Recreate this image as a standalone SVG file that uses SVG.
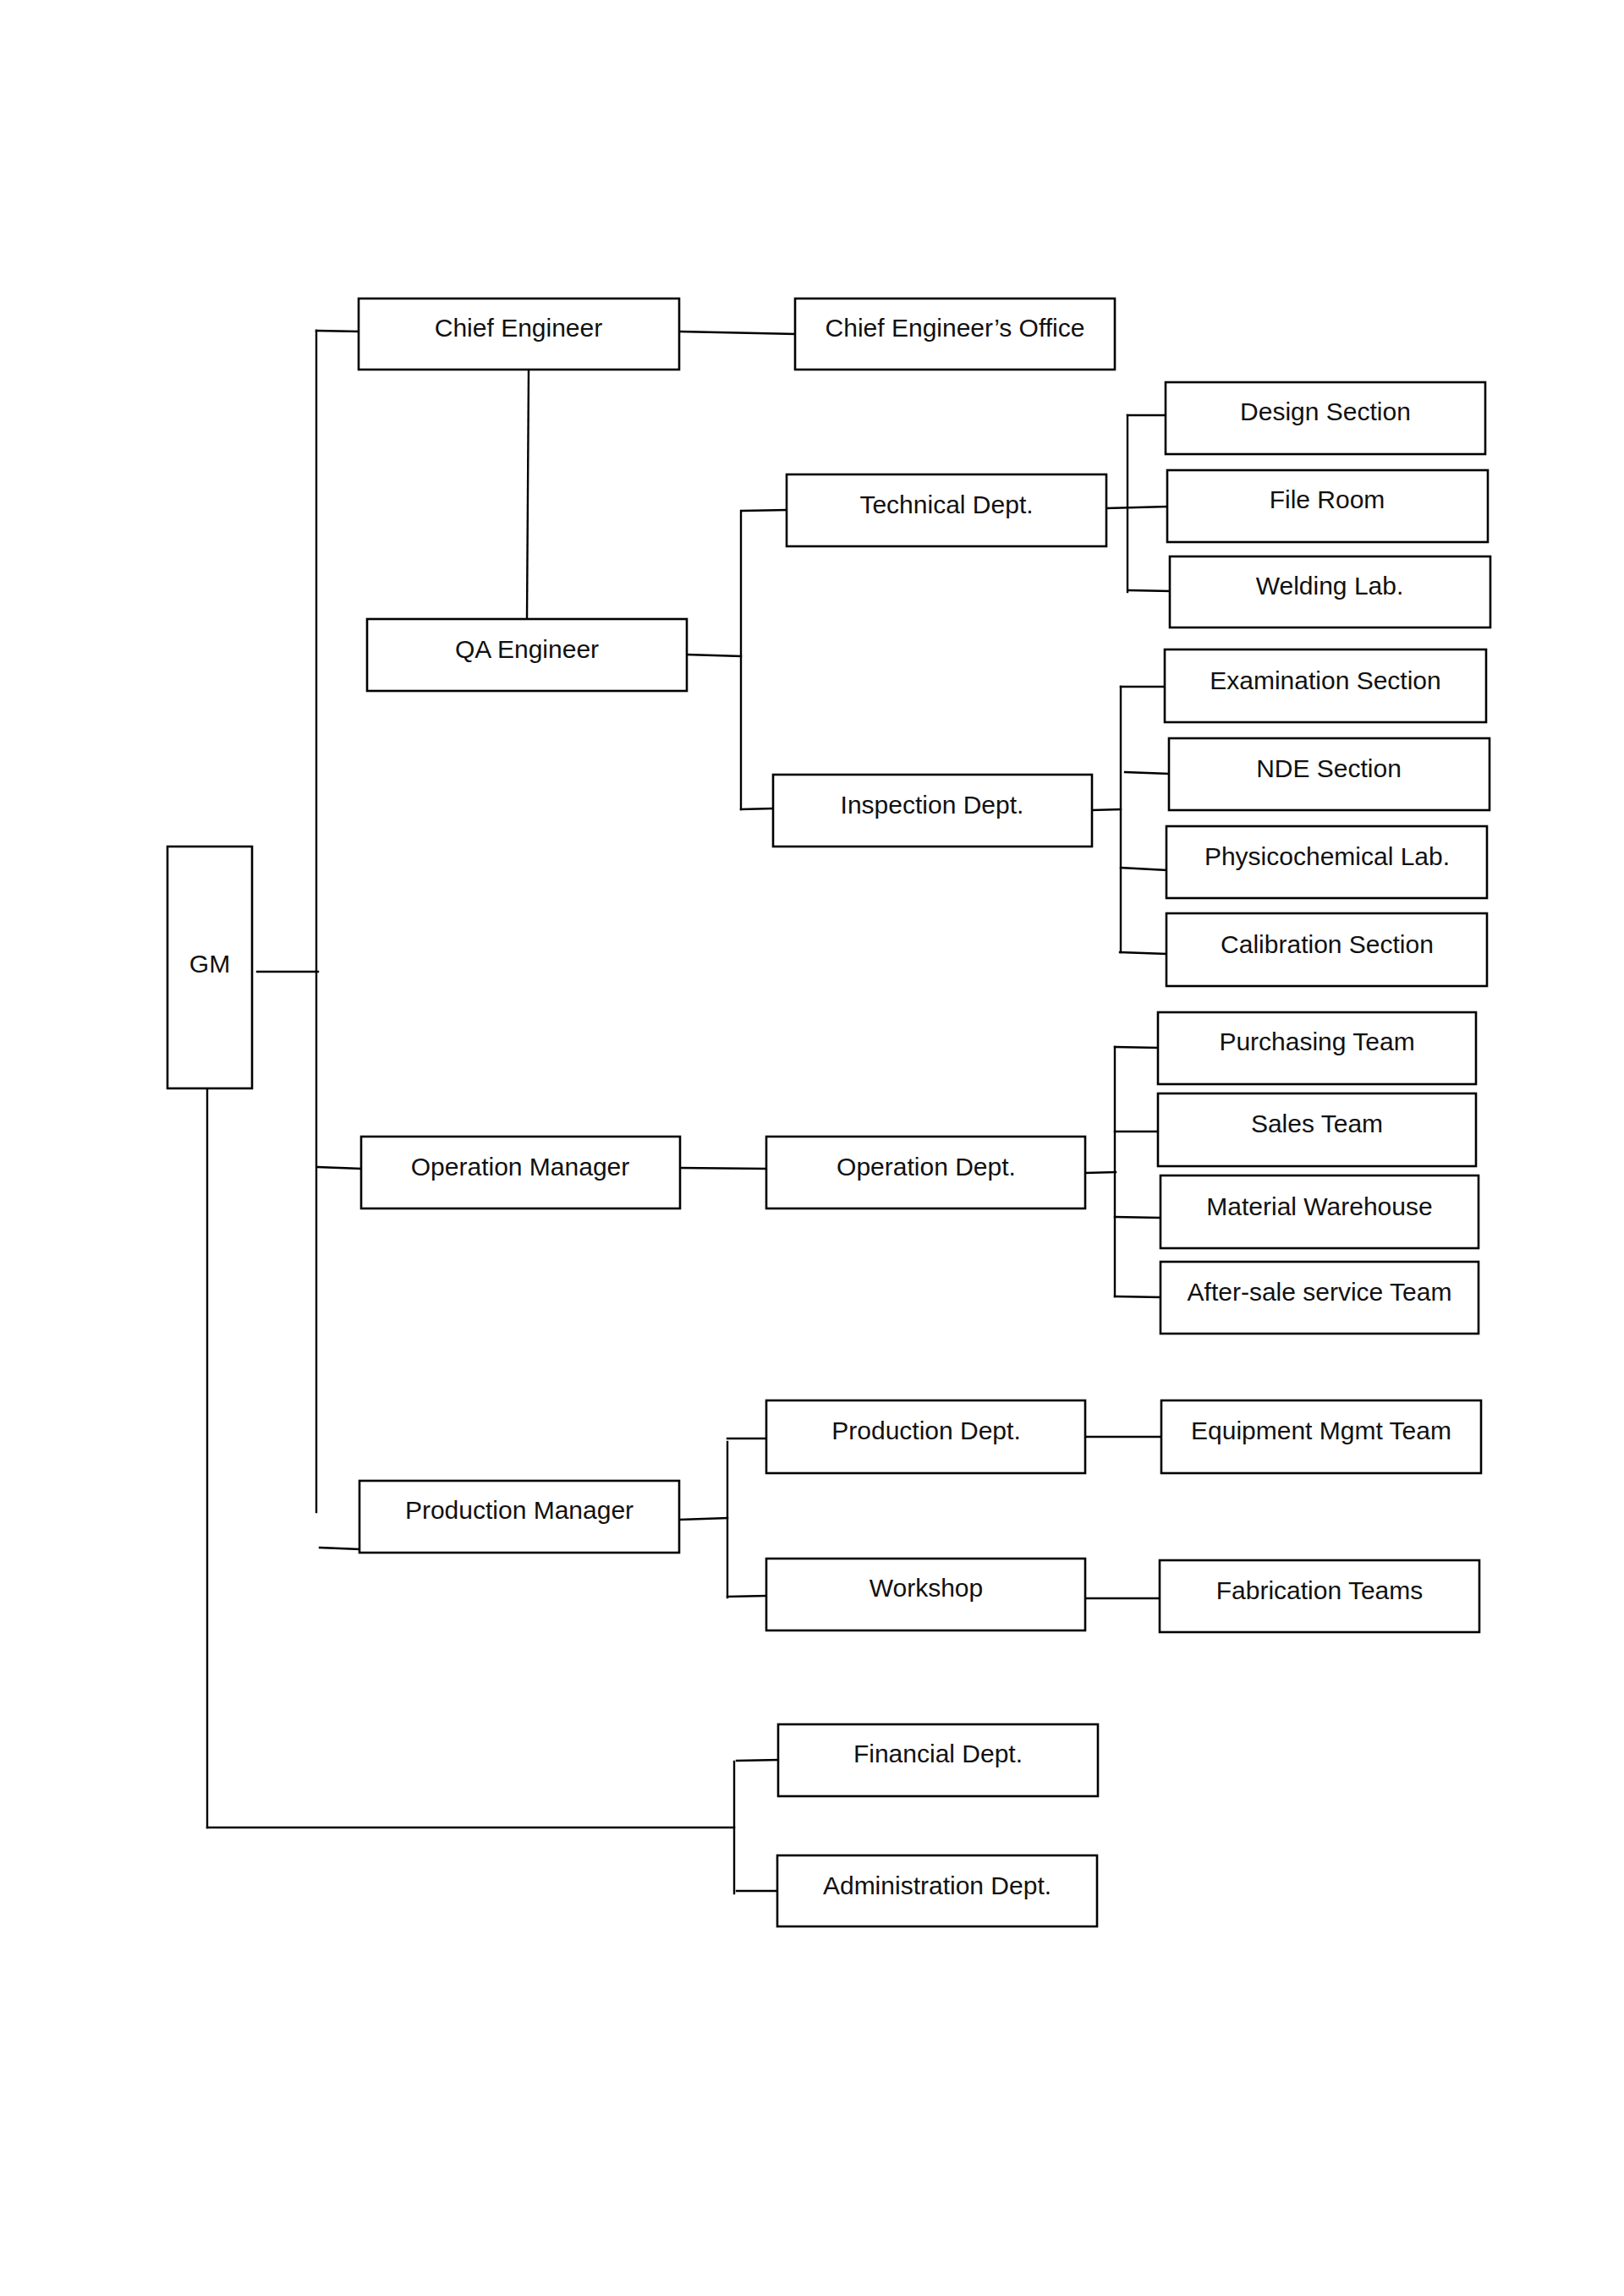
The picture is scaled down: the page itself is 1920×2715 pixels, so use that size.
<svg xmlns="http://www.w3.org/2000/svg" width="1920" height="2715" viewBox="0 0 1920 2715">
<style>
.b{fill:#fff;stroke:#000;stroke-width:2.6}
.t{font-family:"Liberation Sans",Arial,sans-serif;font-size:30px;fill:#111;text-anchor:middle}
.c line{stroke:#000;stroke-width:2.4;stroke-linecap:square}
</style>
<rect width="1920" height="2715" fill="#fff"/>
<g class="c" id="connectors">
<line x1="374" y1="391" x2="374" y2="1788"/>
<line x1="374" y1="391" x2="424" y2="392"/>
<line x1="304" y1="1149" x2="376" y2="1149"/>
<line x1="376" y1="1380" x2="427" y2="1382"/>
<line x1="378" y1="1830" x2="425" y2="1832"/>
<line x1="803" y1="392" x2="940" y2="395"/>
<line x1="625" y1="437" x2="623" y2="732"/>
<line x1="812" y1="774" x2="876" y2="776"/>
<line x1="876" y1="604" x2="876" y2="957"/>
<line x1="878" y1="604" x2="930" y2="603"/>
<line x1="876" y1="957" x2="914" y2="956"/>
<line x1="1308" y1="601" x2="1380" y2="599"/>
<line x1="1333" y1="491" x2="1333" y2="700"/>
<line x1="1333" y1="491" x2="1378" y2="491"/>
<line x1="1335" y1="698" x2="1383" y2="699"/>
<line x1="1291" y1="958" x2="1325" y2="957"/>
<line x1="1325" y1="812" x2="1325" y2="1126"/>
<line x1="1325" y1="812" x2="1377" y2="812"/>
<line x1="1330" y1="913" x2="1382" y2="915"/>
<line x1="1325" y1="1026" x2="1379" y2="1029"/>
<line x1="1324" y1="1126" x2="1379" y2="1128"/>
<line x1="804" y1="1381" x2="906" y2="1382"/>
<line x1="1283" y1="1387" x2="1319" y2="1386"/>
<line x1="1318" y1="1238" x2="1318" y2="1533"/>
<line x1="1318" y1="1238" x2="1369" y2="1239"/>
<line x1="1318" y1="1338" x2="1369" y2="1338"/>
<line x1="1318" y1="1439" x2="1372" y2="1440"/>
<line x1="1318" y1="1533" x2="1372" y2="1534"/>
<line x1="803" y1="1797" x2="860" y2="1795"/>
<line x1="860" y1="1705" x2="860" y2="1889"/>
<line x1="860" y1="1701" x2="906" y2="1701"/>
<line x1="860" y1="1888" x2="906" y2="1887"/>
<line x1="1283" y1="1699" x2="1373" y2="1699"/>
<line x1="1285" y1="1890" x2="1372" y2="1890"/>
<line x1="245" y1="1287" x2="245" y2="2161"/>
<line x1="245" y1="2161" x2="868" y2="2161"/>
<line x1="868" y1="2083" x2="868" y2="2239"/>
<line x1="871" y1="2082" x2="920" y2="2081"/>
<line x1="871" y1="2236" x2="919" y2="2236"/>
</g>
<g id="gm"><rect class="b" x="198" y="1001" width="100" height="286"/><text class="t" x="248" y="1150">GM</text></g>
<g id="chief-engineer"><rect class="b" x="424" y="353" width="379" height="84"/><text class="t" x="613" y="398">Chief Engineer</text></g>
<g id="chief-engineer-office"><rect class="b" x="940" y="353" width="378" height="84"/><text class="t" x="1129" y="398">Chief Engineer’s Office</text></g>
<g id="qa-engineer"><rect class="b" x="434" y="732" width="378" height="85"/><text class="t" x="623" y="778">QA Engineer</text></g>
<g id="technical-dept"><rect class="b" x="930" y="561" width="378" height="85"/><text class="t" x="1119" y="607">Technical Dept.</text></g>
<g id="design-section"><rect class="b" x="1378" y="452" width="378" height="85"/><text class="t" x="1567" y="497">Design Section</text></g>
<g id="file-room"><rect class="b" x="1380" y="556" width="379" height="85"/><text class="t" x="1569" y="601">File Room</text></g>
<g id="welding-lab"><rect class="b" x="1383" y="658" width="379" height="84"/><text class="t" x="1572" y="703">Welding Lab.</text></g>
<g id="inspection-dept"><rect class="b" x="914" y="916" width="377" height="85"/><text class="t" x="1102" y="962">Inspection Dept.</text></g>
<g id="examination-section"><rect class="b" x="1377" y="768" width="380" height="86"/><text class="t" x="1567" y="815">Examination Section</text></g>
<g id="nde-section"><rect class="b" x="1382" y="873" width="379" height="85"/><text class="t" x="1571" y="919">NDE Section</text></g>
<g id="physicochemical-lab"><rect class="b" x="1379" y="977" width="379" height="85"/><text class="t" x="1569" y="1023">Physicochemical Lab.</text></g>
<g id="calibration-section"><rect class="b" x="1379" y="1080" width="379" height="86"/><text class="t" x="1569" y="1127">Calibration Section</text></g>
<g id="operation-manager"><rect class="b" x="427" y="1344" width="377" height="85"/><text class="t" x="615" y="1390">Operation Manager</text></g>
<g id="operation-dept"><rect class="b" x="906" y="1344" width="377" height="85"/><text class="t" x="1095" y="1390">Operation Dept.</text></g>
<g id="purchasing-team"><rect class="b" x="1369" y="1197" width="376" height="85"/><text class="t" x="1557" y="1242">Purchasing Team</text></g>
<g id="sales-team"><rect class="b" x="1369" y="1293" width="376" height="86"/><text class="t" x="1557" y="1339">Sales Team</text></g>
<g id="material-warehouse"><rect class="b" x="1372" y="1390" width="376" height="86"/><text class="t" x="1560" y="1437">Material Warehouse</text></g>
<g id="after-sale-team"><rect class="b" x="1372" y="1492" width="376" height="85"/><text class="t" x="1560" y="1538">After-sale service Team</text></g>
<g id="production-manager"><rect class="b" x="425" y="1751" width="378" height="85"/><text class="t" x="614" y="1796">Production Manager</text></g>
<g id="production-dept"><rect class="b" x="906" y="1656" width="377" height="86"/><text class="t" x="1095" y="1702">Production Dept.</text></g>
<g id="equipment-team"><rect class="b" x="1373" y="1656" width="378" height="86"/><text class="t" x="1562" y="1702">Equipment Mgmt Team</text></g>
<g id="workshop"><rect class="b" x="906" y="1843" width="377" height="85"/><text class="t" x="1095" y="1888">Workshop</text></g>
<g id="fabrication-teams"><rect class="b" x="1371" y="1845" width="378" height="85"/><text class="t" x="1560" y="1891">Fabrication Teams</text></g>
<g id="financial-dept"><rect class="b" x="920" y="2039" width="378" height="85"/><text class="t" x="1109" y="2084">Financial Dept.</text></g>
<g id="administration-dept"><rect class="b" x="919" y="2194" width="378" height="84"/><text class="t" x="1108" y="2240">Administration Dept.</text></g>
</svg>
